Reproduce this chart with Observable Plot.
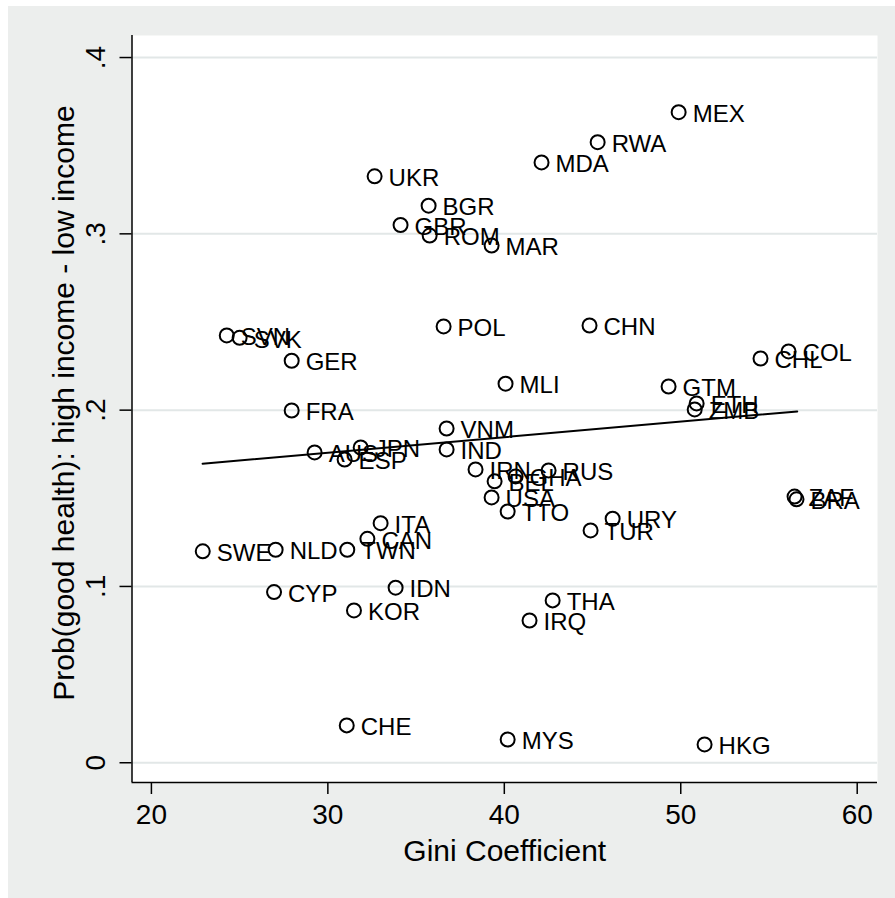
<!DOCTYPE html>
<html><head><meta charset="utf-8">
<script src="https://cdn.jsdelivr.net/npm/d3@7"></script>
<script src="https://cdn.jsdelivr.net/npm/@observablehq/plot@0.6"></script>
<style>
html,body{margin:0;padding:0;background:#fff;}
#wrap{padding:6px 0 0 8px;}
</style></head><body><div id="wrap"></div>
<script>
const countries = ["MEX","RWA","MDA","UKR","BGR","GBR","ROM","MAR","POL","CHN","SVN","SVK","GER","COL","CHL","MLI","GTM","ETH","ZMB","FRA","VNM","IND","AUS","JPN","ESP","IRN","RUS","BEL","GHA","USA","TTO","URY","TUR","ZAF","BRA","ITA","CAN","TWN","NLD","SWE","CYP","IDN","KOR","THA","IRQ","CHE","MYS","HKG"];
const gini = [49.88,45.29,42.11,32.65,35.71,34.12,35.77,39.28,36.56,44.83,24.27,25.0,27.95,56.11,54.52,40.07,49.31,50.9,50.79,27.95,36.73,36.73,29.25,31.86,30.95,38.37,42.51,39.45,40.64,39.28,40.19,46.14,44.89,56.45,56.56,32.99,32.24,31.1,27.04,22.91,26.95,33.84,31.48,42.74,41.43,31.07,40.19,51.35];
const prob = [0.369,0.352,0.3405,0.3326,0.316,0.305,0.299,0.2934,0.2475,0.248,0.2424,0.241,0.228,0.2333,0.2293,0.215,0.2134,0.2038,0.2004,0.1998,0.1896,0.1777,0.176,0.1788,0.172,0.1664,0.1658,0.1596,0.1624,0.1505,0.1425,0.1384,0.1318,0.151,0.1494,0.1359,0.127,0.1208,0.1208,0.1199,0.0968,0.0993,0.0864,0.0921,0.0807,0.0212,0.0132,0.0104];
const xTicks = [20,30,40,50,60];
const yTicks = [0,0.1,0.2,0.3,0.4];
const yTickLabels = ["0",".1",".2",".3",".4"];
const fitGini = [22.9, 56.6];
const fitProb = [0.1696, 0.1993];
const xDomain = [18.9, 61.15];
const yDomain = [-0.0112, 0.4125];
const xTitle = "Gini Coefficient";
const yTitle = "Prob(good health): high income - low income";

const points = countries.map((c,i)=>({c, x: gini[i], y: prob[i]}));
const fit = fitGini.map((x,i)=>({x, y: fitProb[i]}));
const yt = yTicks.map((v,i)=>({v, t: yTickLabels[i]}));
const font = "'Liberation Sans', Arial, Helvetica, sans-serif";

const chart = Plot.plot({
  width: 887, height: 892,
  marginLeft: 123.5, marginRight: 18, marginTop: 29, marginBottom: 116,
  style: {background: "#eceeed", fontFamily: font, color: "black", overflow: "visible"},
  x: {domain: xDomain},
  y: {domain: yDomain},
  marks: [
    Plot.frame({fill: "white", stroke: "none"}),
    Plot.gridY(yTicks, {stroke: "#e2e7e7", strokeOpacity: 1, strokeWidth: 2}),
    Plot.ruleX([xDomain[0]], {stroke: "black", strokeWidth: 1.5}),
    Plot.ruleY([yDomain[0]], {stroke: "black", strokeWidth: 1.5}),
    Plot.axisX(xTicks, {tickSize: 12, tickPadding: 10, fontSize: 28, label: null, stroke: "black", strokeWidth: 1.5}),
    Plot.axisY(yTicks, {tickSize: 12, tickFormat: () => "", label: null, stroke: "black", strokeWidth: 1.5}),
    Plot.text(yt, {y: "v", text: "t", frameAnchor: "left", textAnchor: "middle", lineAnchor: "middle", rotate: -90, dx: -36, fontSize: 28, fill: "black"}),
    Plot.dot(points, {x: "x", y: "y", r: 7, stroke: "black", strokeWidth: 2, fill: "none"}),
    Plot.line(fit, {x: "x", y: "y", stroke: "black", strokeWidth: 2}),
    Plot.text(points, {x: "x", y: "y", text: "c", textAnchor: "start", dx: 14, dy: 2, fontSize: 24, fill: "black"}),
    Plot.text([xTitle], {frameAnchor: "bottom", textAnchor: "middle", lineAnchor: "middle", dy: 69, fontSize: 30, fill: "black"}),
    Plot.text([yTitle], {frameAnchor: "left", textAnchor: "middle", lineAnchor: "middle", rotate: -90, dx: -68, dy: -6, fontSize: 30, fill: "black"})
  ]
});
document.getElementById("wrap").appendChild(chart);
</script></body></html>
